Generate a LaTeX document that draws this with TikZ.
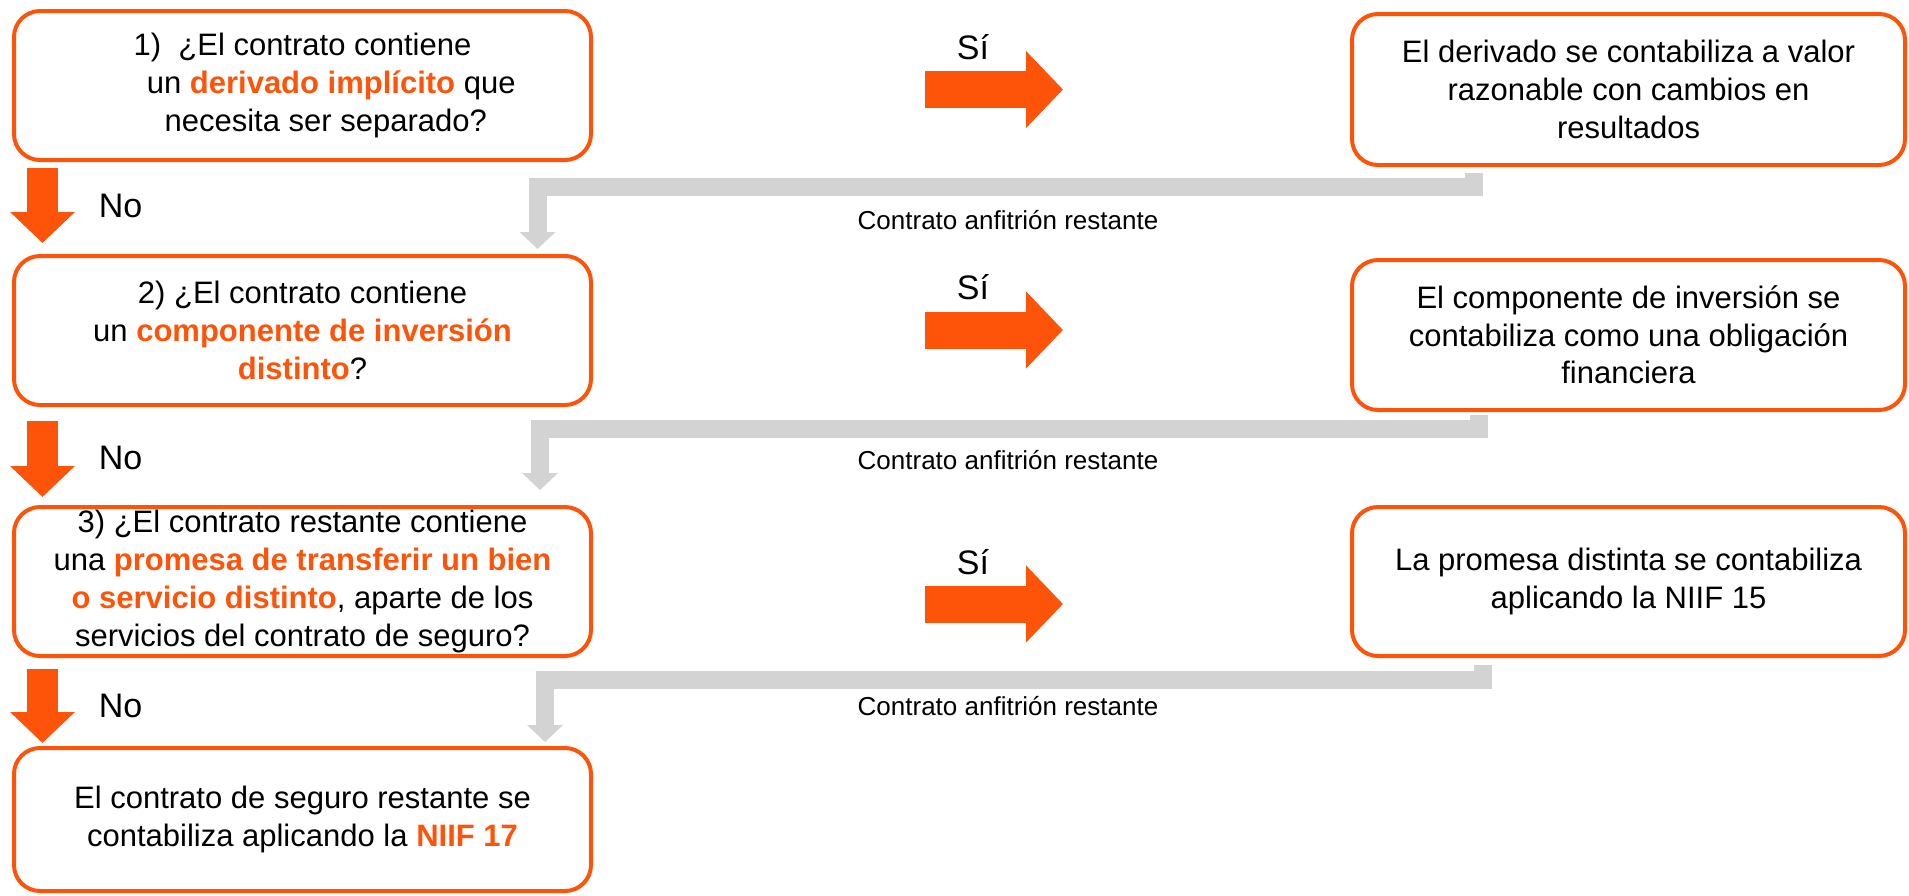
\documentclass[tikz,border=0pt]{standalone}
\usepackage{fontspec}
\setmainfont{Liberation Sans}
\usetikzlibrary{arrows.meta}
\definecolor{naranja}{RGB}{254,84,10}
\definecolor{gris}{RGB}{211,211,211}
\newcommand{\resalta}[1]{\textbf{\color{naranja}#1}}
\begin{document}
\begin{tikzpicture}[x=0.5pt,y=-0.5pt,
	caja/.style={draw=naranja,line width=2pt,rounded corners=13pt,align=center,inner sep=0pt,outer sep=0pt,font=\fontsize{15.5}{18.85}\selectfont},
	izq/.style={caja,minimum width=288.5pt},
	der/.style={caja,minimum width=276.5pt},
	flechano/.style={draw=naranja,line width=15.5pt,-{Triangle[width=31.5pt,length=15.5pt]}},
	flechasi/.style={draw=naranja,line width=18.5pt,-{Triangle[width=37.5pt,length=18.5pt]}},
	retorno/.style={draw=gris,line width=9pt,-{Triangle[width=17.5pt,length=8.5pt]}},
	rotulo/.style={font=\fontsize{17}{20}\selectfont},
	nota/.style={font=\fontsize{13}{15}\selectfont}]
	
	\useasboundingbox (0,0) rectangle (1909,895);
	
	% preguntas
	\node[izq,minimum height=74.5pt] (p1) at (302.5,85.5) {1)\ \ ¿El contrato contiene\\ \hspace*{1.85em}un \resalta{derivado implícito} que\\ \hspace*{1.5em}necesita ser separado?};
	\node[izq,minimum height=74.5pt] (p2) at (302.5,330.5) {2) ¿El contrato contiene\\ un \resalta{componente de inversión}\\ \resalta{distinto}?};
	\node[izq,minimum height=74.5pt] (p3) at (302.5,581.5) {3) ¿El contrato restante contiene\\ una \resalta{promesa de transferir un bien}\\ \resalta{o servicio distinto}, aparte de los\\ servicios del contrato de seguro?};
	\node[izq,minimum height=71.5pt] (p4) at (302.5,819.5) {El contrato de seguro restante se\\ contabiliza aplicando la \resalta{NIIF 17}};
	
	% resultados
	\node[der,minimum height=75.5pt] (r1) at (1628.5,89.5) {El derivado se contabiliza a valor\\ razonable con cambios en\\ resultados};
	\node[der,minimum height=75pt] (r2) at (1628.5,335) {El componente de inversión se\\ contabiliza como una obligación\\ financiera};
	\node[der,minimum height=74.5pt] (r3) at (1628.5,581.5) {La promesa distinta se contabiliza\\ aplicando la NIIF 15};
	
	% no
	\draw[flechano] ([shift={(28.5,8)}]p1.south west) -- ([shift={(28.5,-13)}]p2.north west);
	\draw[flechano] ([shift={(28.5,16)}]p2.south west) -- ([shift={(28.5,-10)}]p3.north west);
	\draw[flechano] ([shift={(28.5,13)}]p3.south west) -- ([shift={(28.5,-5)}]p4.north west);
	\node[rotulo] (no1) at (120.5,206) {No};
	\node[rotulo] (no2) at (120.5,458) {No};
	\node[rotulo] (no3) at (120.5,706) {No};
	
	% si
	\node[rotulo] (si1) at (973,47) {Sí};
	\node[rotulo] (si2) at (973,287) {Sí};
	\node[rotulo] (si3) at (973,562) {Sí};
	\draw[flechasi] ([shift={(-48,42.5)}]si1.center) -- ++(138,0);
	\draw[flechasi] ([shift={(-48,43)}]si2.center) -- ++(138,0);
	\draw[flechasi] ([shift={(-48,42)}]si3.center) -- ++(138,0);
	
	% contrato anfitrion
	\draw[retorno] ([shift={(122,8)}]r1.south west) -- ++(0,13.5) -| ([shift={(-53.5,-7)}]p2.north east);
	\draw[retorno] ([shift={(127,5)}]r2.south west) -- ++(0,14) -| ([shift={(-51,-17)}]p3.north east);
	\draw[retorno] ([shift={(131,9)}]r3.south west) -- ++(0,14.5) -| ([shift={(-46,-6)}]p4.north east);
	\node[nota] (h1) at (1008,220) {Contrato anfitrión restante};
	\node[nota] (h2) at (1008,460) {Contrato anfitrión restante};
	\node[nota] (h3) at (1008,706) {Contrato anfitrión restante};
	
\end{tikzpicture}
\end{document}
